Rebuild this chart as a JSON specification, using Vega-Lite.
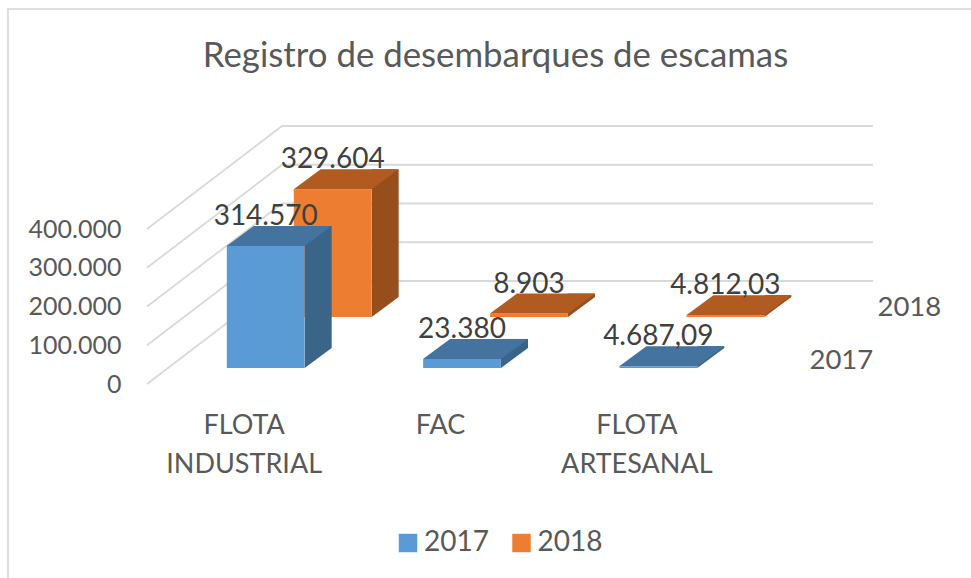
{
"$schema":"https://vega.github.io/schema/vega-lite/v6.json",
"width":970,"height":580,
"padding":{"left":8,"top":9,"right":-7,"bottom":-11},
"autosize":"none",
"background":"white",
"view":{"stroke":"#dedede","strokeWidth":2,"fill":"white"},
"title":{"text":"Registro de desembarques de escamas","font":"Lato","fontSize":34.8,"fontWeight":"normal","color":"#595959","anchor":"middle","dx":2.5,"dy":100,"offset":0,"baseline":"bottom"},
"datasets":{
"main":[
{"flota":"FLOTA INDUSTRIAL","anio":"2017","valor":314570,"etiqueta":"314.570"},
{"flota":"FAC","anio":"2017","valor":23380,"etiqueta":"23.380"},
{"flota":"FLOTA ARTESANAL","anio":"2017","valor":4687.09,"etiqueta":"4.687,09"},
{"flota":"FLOTA INDUSTRIAL","anio":"2018","valor":329604,"etiqueta":"329.604"},
{"flota":"FAC","anio":"2018","valor":8903,"etiqueta":"8.903"},
{"flota":"FLOTA ARTESANAL","anio":"2018","valor":4812.03,"etiqueta":"4.812,03"}
],
"ticks":[{"t":0},{"t":100000},{"t":200000},{"t":300000},{"t":400000}]
},
"data":{"name":"main"},
"config":{"font":"Lato","axis":{"labelFont":"Lato"},"legend":{"labelFont":"Lato"}},
"encoding":{
"x":{"field":"flota","type":"nominal","sort":["FLOTA INDUSTRIAL","FAC","FLOTA ARTESANAL"],
"scale":{"domain":["FLOTA INDUSTRIAL","FAC","FLOTA ARTESANAL"],"range":[159.5,748.5],"paddingInner":0.604,"paddingOuter":0.302},
"axis":{"title":null,"orient":"bottom","offset":-177,"domain":false,"ticks":false,"grid":false,"labelAngle":0,"labelOffset":-21.5,"labelPadding":0,"labelFontSize":27,"labelColor":"#595959","labelLineHeight":39,"labelBaseline":"top","labelExpr":"split(datum.label,' ')"}},
"y":{"field":"valor","type":"quantitative",
"scale":{"domain":[0,400000],"range":[375,220],"nice":false,"zero":true},
"axis":{"title":null,"offset":-113,"domain":false,"ticks":false,"grid":false,"labelPadding":0,"tickCount":5,"values":[0,100000,200000,300000,400000],"labelFontSize":25,"labelColor":"#595959","labelExpr":"replace(format(datum.value,','),',','.')"}}
},
"layer":[
{"data":{"name":"ticks"},"mark":{"type":"point","shape":"M-346,0L-211,-103L380,-103","size":4,"filled":false,"stroke":"#d9d9d9","strokeWidth":1.8,"opacity":1},
 "encoding":{"x":null,"y":{"field":"t","type":"quantitative"}}},

{"transform":[{"filter":"datum.anio=='2018'"}],"mark":{"type":"bar","color":"#964f1c","width":27,"xOffset":119.5,"yOffset":-87,"y2Offset":-67},"encoding":{"y2":{"datum":0}}},
{"transform":[{"filter":"datum.anio=='2018'"}],"mark":{"type":"point","shape":"M39,0L68,0L68,-20L66,-20Z","size":4,"filled":true,"fill":"white","opacity":1,"xOffset":67,"yOffset":-67},"encoding":{"y":{"datum":0}}},
{"transform":[{"filter":"datum.anio=='2018'"}],"mark":{"type":"bar","xOffset":67,"yOffset":-67,"y2Offset":-67},"encoding":{"y2":{"datum":0},"color":{"field":"anio","type":"nominal","scale":{"domain":["2017","2018"],"range":["#5b9bd5","#ed7d31"]},"legend":{"title":null,"orient":"none","legendX":386,"legendY":520,"direction":"horizontal","columns":2,"symbolType":"square","symbolSize":340,"symbolStrokeWidth":0,"labelFontSize":28,"labelColor":"#595959","labelOffset":2,"columnPadding":18.5,"symbolOpacity":1}}}},
{"transform":[{"filter":"datum.anio=='2018'"}],"mark":{"type":"point","shape":"M-39,0L39,0L66,-20L-12,-20Z","size":4,"filled":true,"fill":"#b15b20","opacity":1,"xOffset":67,"yOffset":-67}},
{"transform":[{"filter":"datum.anio=='2018'"}],"mark":{"type":"text","font":"Lato","fontSize":28,"color":"#404040","align":"center","baseline":"middle","xOffset":67,"yOffset":-96},"encoding":{"text":{"field":"etiqueta","type":"nominal"}}},

{"transform":[{"filter":"datum.anio=='2017'"}],"mark":{"type":"bar","color":"#3a6488","width":27,"xOffset":52.5,"yOffset":-36,"y2Offset":-16},"encoding":{"y2":{"datum":0}}},
{"transform":[{"filter":"datum.anio=='2017'"}],"mark":{"type":"point","shape":"M39,0L68,0L68,-20L66,-20Z","size":4,"filled":true,"fill":"white","opacity":1,"yOffset":-16},"encoding":{"y":{"datum":0}}},
{"transform":[{"filter":"datum.anio=='2017'"}],"mark":{"type":"bar","yOffset":-16,"y2Offset":-16},"encoding":{"y2":{"datum":0},"color":{"field":"anio","type":"nominal"}}},
{"transform":[{"filter":"datum.anio=='2017'"}],"mark":{"type":"point","shape":"M-39,0L39,0L66,-20L-12,-20Z","size":4,"filled":true,"fill":"#44739f","opacity":1,"yOffset":-16}},
{"transform":[{"filter":"datum.anio=='2017'"}],"mark":{"type":"text","font":"Lato","fontSize":28,"color":"#404040","align":"center","baseline":"middle","yOffset":-45},"encoding":{"text":{"field":"etiqueta","type":"nominal"}}},

{"transform":[{"filter":"datum.flota=='FLOTA ARTESANAL' && datum.anio=='2017'"}],"mark":{"type":"text","font":"Lato","fontSize":27.5,"color":"#595959","align":"center","baseline":"middle","xOffset":183,"yOffset":-23},"encoding":{"y":{"datum":0},"text":{"field":"anio","type":"nominal"}}},
{"transform":[{"filter":"datum.flota=='FLOTA ARTESANAL' && datum.anio=='2018'"}],"mark":{"type":"text","font":"Lato","fontSize":27.5,"color":"#595959","align":"center","baseline":"middle","xOffset":251,"yOffset":-76},"encoding":{"y":{"datum":0},"text":{"field":"anio","type":"nominal"}}}
]
}
